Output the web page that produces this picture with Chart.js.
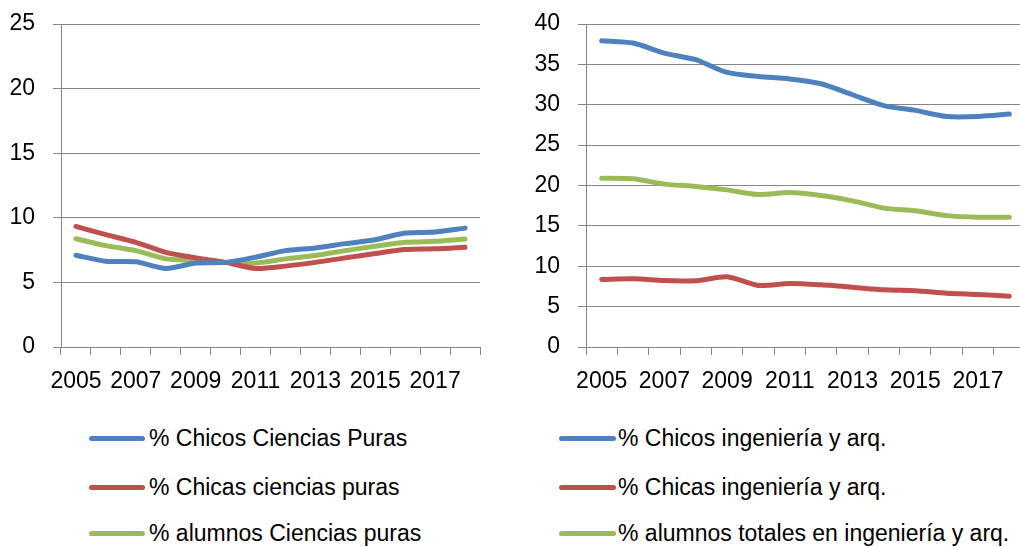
<!DOCTYPE html>
<html>
<head>
<meta charset="utf-8">
<script src="https://cdn.jsdelivr.net/npm/chart.js@4"></script>
<style>
  html, body { margin: 0; padding: 0; background: #fff; width: 1020px; height: 547px; overflow: hidden; }
  .box { position: absolute; }
  .legend-item { position: absolute; font-family: "Liberation Sans", Arial, sans-serif; font-size: 23px; color: #000; white-space: nowrap; line-height: 26px; }
  .legend-item span.swatch { position: absolute; top: 11px; height: 5px; border-radius: 3px; }
</style>
</head>
<body>
<div class="box" style="left:0;top:0;width:500px;height:400px;"><canvas id="leftChart"></canvas></div>
<div class="box" style="left:525px;top:0;width:520px;height:400px;"><canvas id="rightChart"></canvas></div>
<div id="legend"></div>
<script>
// Data
const years = ['2005', '2006', '2007', '2008', '2009', '2010', '2011', '2012', '2013', '2014', '2015', '2016', '2017', '2018'];

const chicosCiencias = [7.1, 6.64, 6.6, 6.08, 6.5, 6.55, 6.95, 7.46, 7.67, 8.0, 8.3, 8.82, 8.9, 9.2];
const chicasCiencias = [9.33, 8.7, 8.1, 7.33, 6.9, 6.55, 6.08, 6.26, 6.55, 6.9, 7.23, 7.54, 7.6, 7.72];
const alumnosCiencias = [8.38, 7.85, 7.46, 6.82, 6.72, 6.55, 6.5, 6.82, 7.08, 7.46, 7.8, 8.1, 8.18, 8.36];

const chicosIng = [37.93, 37.64, 36.4, 35.58, 34.0, 33.5, 33.2, 32.6, 31.24, 29.9, 29.3, 28.55, 28.55, 28.84];
const chicasIng = [8.36, 8.45, 8.24, 8.2, 8.7, 7.62, 7.87, 7.7, 7.41, 7.08, 6.96, 6.67, 6.5, 6.29];
const alumnosIng = [20.9, 20.83, 20.17, 19.88, 19.46, 18.88, 19.13, 18.76, 18.1, 17.2, 16.86, 16.27, 16.07, 16.07];

const leftLabels = ['% Chicos Ciencias Puras', '% Chicas ciencias puras', '% alumnos Ciencias puras'];
const rightLabels = ['% Chicos ingeniería y arq.', '% Chicas ingeniería y arq.', '% alumnos totales en ingeniería y arq.'];

const colors = ['#4F81BD', '#C0504D', '#9BBB59'];
const gridColor = '#868686';
const fontFamily = '"Liberation Sans", Arial, sans-serif';

function makeDatasets(labels, series) {
    return series.map(function(values, i) {
        return {
            label: labels[i],
            data: values,
            borderColor: colors[i],
            backgroundColor: colors[i],
            borderWidth: 5,
            pointRadius: 0,
            tension: 0.25,
            borderCapStyle: 'round',
            borderJoinStyle: 'round',
            fill: false
        };
    });
}

function makeChart(id, labels, series, yMax, top, bottom) {
    const ctx = document.getElementById(id).getContext('2d');
    return new Chart(ctx, {
        type: 'line',
        data: { labels: years, datasets: makeDatasets(labels, series) },
        options: {
            responsive: true,
            maintainAspectRatio: false,
            animation: false,
            layout: { padding: { top: top, right: 20, bottom: 0, left: 0 } },
            plugins: { legend: { display: false }, tooltip: { enabled: false } },
            scales: {
                x: {
                    offset: true,
                    grid: { offset: true, drawOnChartArea: false, drawTicks: true, tickLength: 8, color: gridColor },
                    border: { color: gridColor },
                    ticks: {
                        autoSkip: false,
                        maxRotation: 0,
                        padding: 13,
                        color: '#000',
                        font: { family: fontFamily, size: 23 },
                        callback: function(value, index) {
                            return index % 2 === 0 ? years[index] : '';
                        }
                    },
                    afterFit: function(scale) { scale.height = 400 - bottom; }
                },
                y: {
                    min: 0,
                    max: yMax,
                    grid: { color: gridColor, tickLength: 8 },
                    border: { color: gridColor },
                    // small lineHeight so the label box does not push the plot area down
                    ticks: { stepSize: 5, padding: 18, color: '#000', font: { family: fontFamily, size: 23, lineHeight: 0.2 } },
                    afterFit: function(scale) { scale.width = 61; }
                }
            }
        }
    });
}

makeChart('leftChart', leftLabels, [chicosCiencias, chicasCiencias, alumnosCiencias], 25, 24, 347);
makeChart('rightChart', rightLabels, [chicosIng, chicasIng, alumnosIng], 40, 24, 347);

// HTML legend
const legend = document.getElementById('legend');
const rowY = [425, 474, 520];
function addLegend(labels, lineX, lineW, textX) {
    labels.forEach(function(text, i) {
        const item = document.createElement('div');
        item.className = 'legend-item';
        item.style.left = lineX + 'px';
        item.style.top = rowY[i] + 'px';
        item.style.paddingLeft = (textX - lineX) + 'px';
        item.innerHTML = '<span class="swatch" style="left:0;width:' + lineW + 'px;background:' + colors[i] + '"></span>';
        item.appendChild(document.createTextNode(text));
        legend.appendChild(item);
    });
}
addLegend(leftLabels, 89, 56, 149);
addLegend(rightLabels, 559, 57, 618);
</script>
</body>
</html>
